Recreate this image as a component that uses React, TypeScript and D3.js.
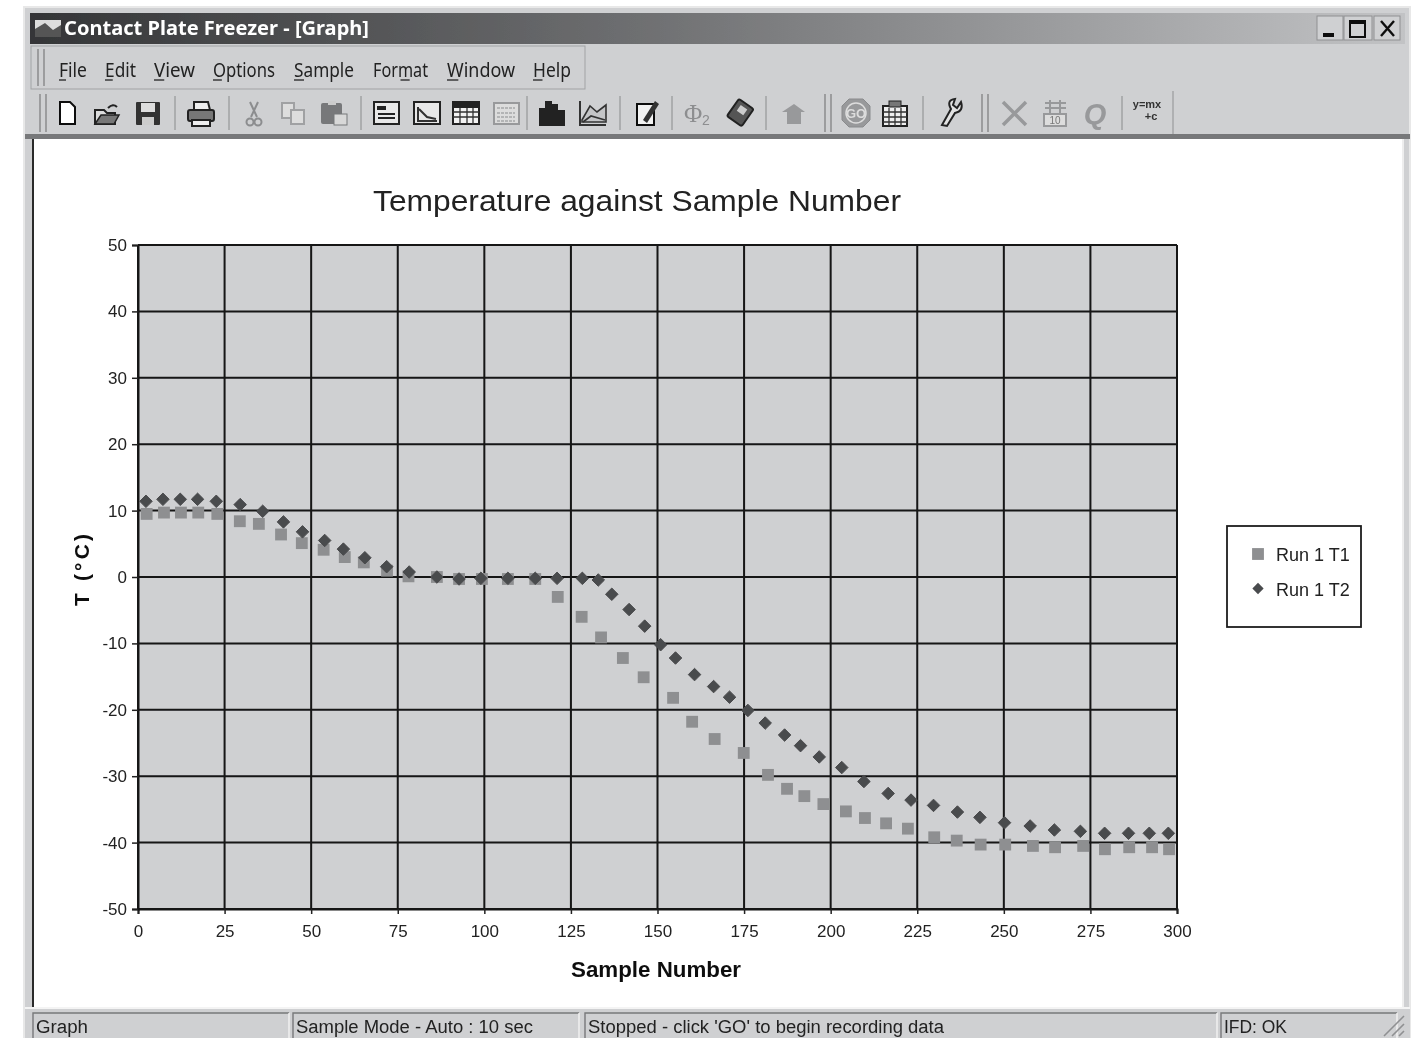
import React, { useEffect, useRef } from "react";
import * as d3 from "d3";

const WIDTH = 1413;
const HEIGHT = 1038;

const xTicks = [0, 25, 50, 75, 100, 125, 150, 175, 200, 225, 250, 275, 300];
const yTicks = [50, 40, 30, 20, 10, 0, -10, -20, -30, -40, -50];

const seriesNames = ["Run 1 T1", "Run 1 T2"];

const t1Samples = [
  2.5, 7.5, 12.4, 17.4, 22.9, 29.4, 34.9, 41.3, 47.3, 53.6, 59.7, 65.2, 71.9, 78.1, 86.3, 92.7,
  99.3, 106.8, 114.7, 121.2, 128.1, 133.7, 140, 146, 154.5, 160, 166.5, 174.9, 181.9, 187.4,
  192.4, 197.9, 204.4, 209.9, 216, 222.3, 229.9, 236.4, 243.3, 250.4, 258.4, 264.8, 272.9,
  279.2, 286.2, 292.8, 297.7,
];
const t1Temps = [
  9.5, 9.7, 9.7, 9.7, 9.5, 8.4, 8.0, 6.4, 5.1, 4.1, 3.0, 2.2, 0.95, 0.1, 0, -0.3,
  -0.3, -0.3, -0.3, -3.0, -6.0, -9.1, -12.2, -15.1, -18.2, -21.8, -24.4, -26.5, -29.8, -31.9,
  -33, -34.2, -35.3, -36.3, -37.1, -37.9, -39.2, -39.7, -40.3, -40.3, -40.5, -40.7, -40.5,
  -41, -40.7, -40.7, -41,
];

const t2Samples = [
  2.3, 7.2, 12.2, 17.2, 22.6, 29.5, 36, 42, 47.5, 53.9, 59.3, 65.5, 71.8, 78.3, 86.3, 92.7,
  99, 106.8, 114.7, 121, 128.3, 132.9, 136.8, 141.8, 146.3, 150.9, 155.2, 160.7, 166.2, 170.8,
  176.1, 181.1, 186.7, 191.3, 196.7, 203.2, 209.6, 216.6, 223.2, 229.7, 236.6, 243.1, 250.2,
  257.6, 264.6, 272.1, 279.1, 286, 292, 297.5,
];
const t2Temps = [
  11.4, 11.7, 11.7, 11.7, 11.4, 10.9, 9.9, 8.3, 6.8, 5.5, 4.2, 2.9, 1.55, 0.75, 0, -0.3,
  -0.2, -0.2, -0.2, -0.2, -0.2, -0.45, -2.6, -4.9, -7.4, -10.2, -12.2, -14.7, -16.5, -18.1,
  -20.1, -22, -23.8, -25.4, -27.1, -28.7, -30.8, -32.6, -33.6, -34.4, -35.4, -36.2, -37,
  -37.5, -38.1, -38.3, -38.6, -38.6, -38.6, -38.6,
];

const menuItems: [string, number, number, number][] = [
  // label, x, width, underlined letter index
  ["File", 59, 28, 0],
  ["Edit", 105, 31, 0],
  ["View", 154, 41, 0],
  ["Options", 213, 62, 0],
  ["Sample", 294, 60, 0],
  ["Format", 373, 55, 3],
  ["Window", 447, 68, 0],
  ["Help", 533, 38, 0],
];

const statusCells: [string, number, number, number][] = [
  // label, panel x, panel width, text width
  ["Graph", 33, 256, 52],
  ["Sample Mode - Auto : 10 sec", 293, 286, 237],
  ["Stopped - click 'GO' to begin recording data", 585, 632, 356],
  ["IFD: OK", 1221, 176, 63],
];

const separators = [175, 229, 361, 527, 620, 672, 766, 923, 1122];
const grips = [40, 825, 982];

const GREY = "#cfd0d2";
const FONT = "'Liberation Sans', Arial, sans-serif";
const CHROME = "'Noto Sans', 'Liberation Sans', sans-serif";
const T1_COLOR = "#8e8f91";
const T2_COLOR = "#4a4b4d";

function Doc({ x, y, dark = "#111", fill = "#fff" }: { x: number; y: number; dark?: string; fill?: string }) {
  return <path transform={`translate(${x},${y})`} d="M-7,-11H3L8,-6V11H-7Z" fill={fill} stroke={dark} strokeWidth={2} />;
}

function Panel({ x, dark = "#222" }: { x: number; dark?: string }) {
  return (
    <g transform={`translate(${x},113)`}>
      <rect x={-12} y={-11} width={25} height={22} fill="#e8e8e8" stroke={dark} strokeWidth={2} />
      <rect x={-9} y={-7} width={9} height={4} fill={dark} />
      <path d="M-8,1H9M-8,5H9" stroke={dark} strokeWidth={2} />
    </g>
  );
}

// toolbar icons, rough redraws of the little bitmaps
function Toolbar() {
  return (
    <g>
      <Doc x={67} y={113} />
      <g transform="translate(107,114)">
        <path d="M-12,10V-4H-3L0,-1H8V10Z" fill="#ddd" stroke="#222" strokeWidth={2} />
        <path d="M-12,10L-6,1H12L7,10Z" fill="#777" stroke="#222" strokeWidth={1.5} />
        <path d="M1,-6Q6,-11 10,-7" fill="none" stroke="#222" strokeWidth={2} />
      </g>
      <g transform="translate(148,113)">
        <rect x={-12} y={-11} width={24} height={23} fill="#333" rx={1} />
        <rect x={-7} y={-10} width={14} height={9} fill="#ddd" />
        <rect x={-6} y={4} width={12} height={8} fill="#ccc" />
      </g>
      <g transform="translate(201,114)">
        <path d="M-7,-4V-12H7L9,-4Z" fill="#eee" stroke="#222" strokeWidth={2} />
        <rect x={-13} y={-4} width={26} height={11} fill="#777" stroke="#222" strokeWidth={2} rx={2} />
        <rect x={-9} y={6} width={18} height={6} fill="#eee" stroke="#222" strokeWidth={2} />
      </g>
      <g transform="translate(254,114)" fill="none" stroke="#8c8d8f" strokeWidth={2}>
        <path d="M-4,-12L3,3M4,-12L-3,3" />
        <circle cx={-4} cy={8} r={3.5} />
        <circle cx={4} cy={8} r={3.5} />
      </g>
      <g transform="translate(293,113)" fill="#ddd" stroke="#a0a1a3" strokeWidth={2}>
        <rect x={-11} y={-10} width={12} height={15} />
        <rect x={-2} y={-3} width={13} height={14} />
      </g>
      <g transform="translate(333,113)">
        <rect x={-12} y={-10} width={21} height={21} fill="#77787a" rx={2} />
        <rect x={-5} y={-12} width={8} height={4} fill="#ccc" />
        <rect x={1} y={1} width={13} height={11} fill="#d8d8d8" stroke="#77787a" />
      </g>
      <Panel x={386} />
      <g transform="translate(427,113)">
        <rect x={-13} y={-11} width={26} height={22} fill="#e8e8e8" stroke="#222" strokeWidth={2} />
        <path d="M-9,-6V8H10M-8,-4L0,4L9,6" fill="none" stroke="#333" strokeWidth={2} />
      </g>
      <g transform="translate(466,113)">
        <rect x={-13} y={-11} width={26} height={22} fill="#f2f2f2" stroke="#222" strokeWidth={2} />
        <rect x={-13} y={-11} width={26} height={6} fill="#222" />
        <path d="M-13,-1H13M-13,4H13M-6,-5V11M1,-5V11M7,-5V11" stroke="#333" strokeWidth={1.3} />
      </g>
      <g transform="translate(506,113)">
        <rect x={-12} y={-10} width={25} height={21} fill="#dcdcdc" stroke="#98999b" strokeWidth={2} />
        <path d="M-9,-5H9M-9,0H9M-9,4H9M-9,8H9" stroke="#a5a6a8" strokeWidth={1.5} strokeDasharray="3 1" />
      </g>
      <g transform="translate(552,114)" fill="#222">
        <rect x={-13} y={-6} width={7} height={18} />
        <rect x={-7} y={-13} width={7} height={25} />
        <rect x={0} y={-10} width={6} height={22} />
        <rect x={6} y={-4} width={7} height={16} />
      </g>
      <g transform="translate(593,114)" stroke="#333" strokeWidth={2}>
        <path d="M-13,-13V11H13" fill="none" />
        <path d="M-11,6L-3,-8L4,-2L13,-9V8H-11Z" fill="#c4c5c7" strokeWidth={1.6} />
        <path d="M-10,8L-2,2L12,6" fill="none" strokeWidth={1.6} />
      </g>
      <g transform="translate(647,113)">
        <rect x={-10} y={-9} width={17} height={21} fill="#f2f2f2" stroke="#111" strokeWidth={2} />
        <path d="M-4,7L8,-12L12,-9L0,10Z" fill="#333" />
      </g>
      <text x={684} y={122} fontFamily="'Liberation Serif', serif" fontSize={25} fill="#8d8e90">Φ</text>
      <text x={702} y={125} fontFamily={FONT} fontSize={14} fill="#8d8e90">2</text>
      <g transform="translate(740,113) rotate(35)">
        <rect x={-9} y={-11} width={18} height={21} fill="#555" stroke="#222" strokeWidth={2} rx={2} />
        <rect x={-4} y={-7} width={8} height={7} fill="#ccc" />
      </g>
      <g transform="translate(793,114)">
        <path d="M-11,-2L1,-10L12,-2L8,-2V10H-6V-2Z" fill="#98999b" />
      </g>
      <g transform="translate(856,113)">
        <path d="M-7,-14H7L14,-7V7L7,14H-7L-14,7V-7Z" fill="#98999b" stroke="#8a8b8d" strokeWidth={1} />
        <circle r={10} fill="none" stroke="#ddd" strokeWidth={1.5} />
        <text y={5} textAnchor="middle" fontFamily={FONT} fontWeight="bold" fontSize={13} fill="#ddd">GO</text>
      </g>
      <g transform="translate(895,114)">
        <rect x={-12} y={-8} width={24} height={20} fill="#eee" stroke="#222" strokeWidth={2} />
        <rect x={-6} y={-13} width={12} height={6} fill="#777" stroke="#222" />
        <path d="M-12,-2H12M-12,3H12M-12,8H12M-6,-6V12M0,-6V12M6,-6V12" stroke="#333" strokeWidth={1.3} />
      </g>
      <path d="M942,125L951,109Q946,100 955,99L953,105L957,108L961,102Q964,111 955,113L947,126Z" fill="#e2e2e2" stroke="#222" strokeWidth={2} />
      <path d="M1003,102L1026,125M1026,102L1003,125" stroke="#98999b" strokeWidth={3.5} />
      <g transform="translate(1055,113)">
        <path d="M-10,-10H11M-10,-5H11M-5,-13V1M5,-13V1" stroke="#98999b" strokeWidth={2} />
        <rect x={-11} y={1} width={22} height={12} fill="#ddd" stroke="#98999b" strokeWidth={2} />
        <text y={11} textAnchor="middle" fontFamily={FONT} fontSize={10} fill="#777">10</text>
      </g>
      <text x={1095} y={124} textAnchor="middle" fontFamily={FONT} fontWeight="bold" fontStyle="italic" fontSize={29} fill="#98999b">Q</text>
      <text x={1147} y={108} textAnchor="middle" fontFamily={FONT} fontWeight="bold" fontSize={11} fill="#333">y=mx</text>
      <text x={1151} y={120} textAnchor="middle" fontFamily={FONT} fontWeight="bold" fontSize={11} fill="#333">+c</text>
    </g>
  );
}

function Chart() {
  const ref = useRef<SVGGElement>(null);

  useEffect(() => {
    const g = d3.select(ref.current);
    g.selectAll("*").remove();

    const x = d3.scaleLinear().domain([0, 300]).range([138, 1177]);
    const y = d3.scaleLinear().domain([-50, 50]).range([909, 245]);

    g.append("rect")
      .attr("x", x(0))
      .attr("y", y(50))
      .attr("width", x(300) - x(0))
      .attr("height", y(-50) - y(50))
      .attr("fill", GREY);

    // gridlines
    g.append("g")
      .selectAll("line")
      .data(xTicks)
      .join("line")
      .attr("x1", (d) => x(d))
      .attr("x2", (d) => x(d))
      .attr("y1", y(50))
      .attr("y2", y(-50))
      .attr("stroke", "#141414")
      .attr("stroke-width", 2);
    g.append("g")
      .selectAll("line")
      .data(yTicks)
      .join("line")
      .attr("x1", x(0))
      .attr("x2", x(300))
      .attr("y1", (d) => y(d))
      .attr("y2", (d) => y(d))
      .attr("stroke", "#141414")
      .attr("stroke-width", 2);

    // axes
    const xAxis = g
      .append("g")
      .attr("transform", `translate(0,${y(-50)})`)
      .call(d3.axisBottom(x).tickValues(xTicks).tickSize(5).tickPadding(11).tickFormat(d3.format("d")));
    const yAxis = g
      .append("g")
      .attr("transform", `translate(${x(0)},0)`)
      .call(d3.axisLeft(y).tickValues(yTicks).tickSize(6).tickPadding(5).tickFormat((d) => String(d)));
    [xAxis, yAxis].forEach((a) => {
      a.selectAll("text").attr("font-size", 17).attr("font-family", FONT).attr("fill", "#222");
      a.selectAll("line").attr("stroke", "#222").attr("stroke-width", 1.5);
      a.select(".domain").attr("stroke", "#141414").attr("stroke-width", 2);
    });

    const square = d3.symbol(d3.symbolSquare, 140)();
    const diamond = d3.symbol(d3.symbolDiamond2, 100)();

    g.append("g")
      .selectAll("path")
      .data(d3.zip(t1Samples, t1Temps))
      .join("path")
      .attr("d", square)
      .attr("transform", (d) => `translate(${x(d[0])},${y(d[1])})`)
      .attr("fill", T1_COLOR);

    g.append("g")
      .selectAll("path")
      .data(d3.zip(t2Samples, t2Temps))
      .join("path")
      .attr("d", diamond)
      .attr("transform", (d) => `translate(${x(d[0])},${y(d[1])})`)
      .attr("fill", T2_COLOR)
      .attr("stroke", T2_COLOR)
      .attr("stroke-width", 1)
      .attr("stroke-linejoin", "round");

    // legend
    const legend = g.append("g").attr("transform", "translate(1227,526)");
    legend.append("rect").attr("width", 134).attr("height", 101).attr("fill", "#fff").attr("stroke", "#1c1c1c").attr("stroke-width", 1.8);
    seriesNames.forEach((name, i) => {
      const row = 28 + i * 34.5;
      legend
        .append("path")
        .attr("d", i === 0 ? square : diamond)
        .attr("transform", `translate(31,${row}) scale(${i === 0 ? 1 : 0.9})`)
        .attr("fill", i === 0 ? T1_COLOR : T2_COLOR);
      legend
        .append("text")
        .attr("x", 49)
        .attr("y", row + 7)
        .attr("font-family", FONT)
        .attr("font-size", 18)
        .attr("fill", "#222")
        .text(name);
    });
  }, []);

  return <g ref={ref} />;
}

export default function App() {
  return (
    <svg
      width={WIDTH}
      height={HEIGHT}
      viewBox={`0 0 ${WIDTH} ${HEIGHT}`}
      style={{ position: "absolute", left: 0, top: 0, background: "#fff" }}
    >
      <defs>
        <linearGradient id="title-bar" x1="0" x2="1" y1="0" y2="0">
          <stop offset="0%" stopColor="#343537" />
          <stop offset="45%" stopColor="#6f7072" />
          <stop offset="100%" stopColor="#c2c3c5" />
        </linearGradient>
        <filter id="soft">
          <feGaussianBlur stdDeviation="0.45" />
        </filter>
      </defs>

      <g filter="url(#soft)">
        {/* window frame */}
        <rect x={24} y={7} width={1386} height={1031} fill={GREY} stroke="#e8e8e8" strokeWidth={2} />
        <rect x={30} y={13} width={1375} height={31} fill="url(#title-bar)" />
        <rect x={35} y={20} width={26} height={17} fill="#ddd" />
        <path d="M35,29L45,23L53,30L61,25V37H35Z" fill="#555" />
        <text x={64} y={35} fontFamily={CHROME} fontWeight={700} fontSize={20} fill="#fff" textLength={305} lengthAdjust="spacingAndGlyphs">
          Contact Plate Freezer - [Graph]
        </text>

        {/* min, max, close */}
        {[1317, 1344, 1374].map((bx, i) => (
          <g key={bx}>
            <rect x={bx} y={16} width={i === 2 ? 26 : i === 1 ? 28 : 26} height={24} fill={GREY} stroke="#8f9092" strokeWidth={1} />
          </g>
        ))}
        <rect x={1323} y={33} width={11} height={4} fill="#111" />
        <rect x={1350} y={21} width={15} height={16} fill="none" stroke="#111" strokeWidth={2} />
        <rect x={1350} y={20} width={15} height={4} fill="#111" />
        <path d="M1381,21L1394,36M1394,21L1381,36" stroke="#111" strokeWidth={2.4} />

        {/* menu bar */}
        <rect x={31} y={46} width={554} height={43} fill={GREY} stroke="#a2a3a5" strokeWidth={1} />
        {menuItems.map(([label, mx, w, u]) => (
          <g key={label}>
            <text x={mx} y={77} fontFamily={CHROME} fontSize={20} fill="#222" textLength={w} lengthAdjust="spacingAndGlyphs">
              {label}
            </text>
            <line x1={mx + (u * w) / label.length} x2={mx + ((u + 1) * w) / label.length} y1={80} y2={80} stroke="#222" strokeWidth={1.3} />
          </g>
        ))}
        <path d="M38,49V86M44,49V86" stroke="#8f9092" strokeWidth={1.6} />

        {/* tool bar */}
        <rect x={31} y={91} width={1142} height={43} fill={GREY} />
        <path d="M1173,91V134" stroke="#8f9092" strokeWidth={1} />
        {grips.map((gx) => (
          <path key={gx} d={`M${gx},94V132M${gx + 6},94V132`} stroke="#8f9092" strokeWidth={1.6} />
        ))}
        {separators.map((sx) => (
          <line key={sx} x1={sx} x2={sx} y1={96} y2={130} stroke="#9a9b9d" strokeWidth={1.3} />
        ))}
        <Toolbar />

        {/* client area */}
        <rect x={25} y={134} width={1385} height={5} fill="#77787a" />
        <rect x={33} y={139} width={1369} height={868} fill="#fff" />
        <path d="M33,139V1007" stroke="#2c2c2c" strokeWidth={2} />
        <path d="M1403,139V1007" stroke="#eeeeee" strokeWidth={2} />

        <Chart />

        <text x={637} y={211} textAnchor="middle" fontFamily={FONT} fontSize={30} fill="#222" textLength={528} lengthAdjust="spacingAndGlyphs">
          Temperature against Sample Number
        </text>
        <text x={656} y={977} textAnchor="middle" fontFamily={FONT} fontWeight={700} fontSize={22} fill="#111" textLength={170} lengthAdjust="spacingAndGlyphs">
          Sample Number
        </text>
        <text
          transform="translate(89,570) rotate(-90)"
          textAnchor="middle"
          fontFamily={FONT}
          fontWeight={700}
          fontSize={21}
          fill="#111"
          textLength={72}
        >
          T (°C)
        </text>

        {/* status bar */}
        <rect x={25} y={1007} width={1385} height={31} fill={GREY} />
        <line x1={25} x2={1410} y1={1008} y2={1008} stroke="#f4f4f4" strokeWidth={2} />
        {statusCells.map(([label, sx, w, tw]) => (
          <g key={label}>
            <path d={`M${sx},1038V1013H${sx + w}`} fill="none" stroke="#77787a" strokeWidth={1.4} />
            <path d={`M${sx + w},1013V1038`} stroke="#f2f2f2" strokeWidth={1.4} />
            <text x={sx + 3} y={1033} fontFamily={FONT} fontSize={18} fill="#222" textLength={tw} lengthAdjust="spacingAndGlyphs">
              {label}
            </text>
          </g>
        ))}
        <path d="M1384,1036L1404,1016M1392,1036L1404,1024M1399,1036L1404,1031" stroke="#8f9092" strokeWidth={1.6} />
      </g>
    </svg>
  );
}
